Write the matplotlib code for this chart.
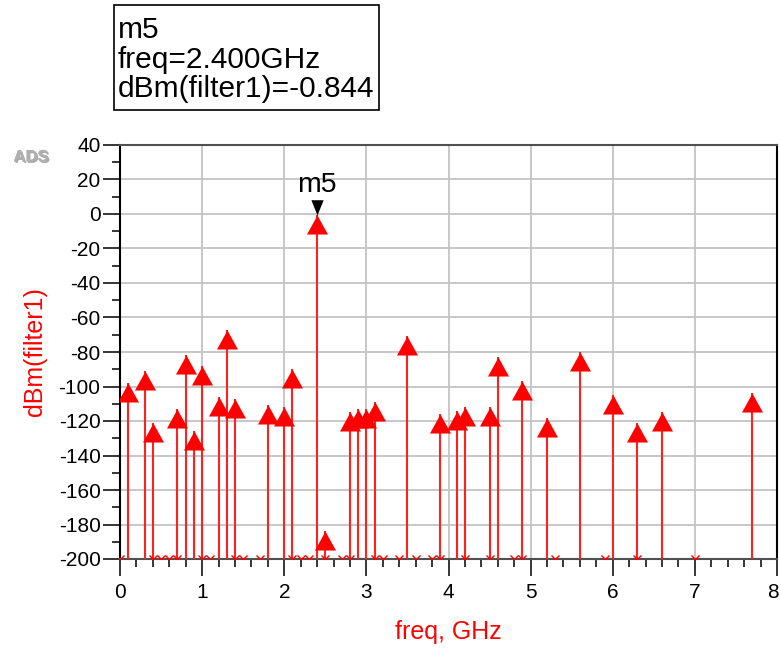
import matplotlib
matplotlib.use("Agg")
import matplotlib.pyplot as plt
from matplotlib.path import Path
from matplotlib.patches import Rectangle
import matplotlib.patheffects as pe
from matplotlib.ticker import MultipleLocator
from matplotlib.transforms import ScaledTranslation

plt.rcParams['font.family'] = ['Liberation Sans', 'DejaVu Sans']
plt.rcParams['axes.unicode_minus'] = False

# Spectrum lines (GHz, dBm)
freqs = [0.1, 0.3, 0.4, 0.7, 0.8, 0.9, 1.0, 1.2, 1.3, 1.4, 1.8, 2.0, 2.1,
         2.4, 2.5, 2.8, 2.9, 3.0, 3.1, 3.5, 3.9, 4.1, 4.2, 4.5, 4.6, 4.9,
         5.2, 5.6, 6.0, 6.3, 6.6, 7.7]
dbm = [-98, -91, -121, -113, -82, -126, -88, -106, -67, -107, -111, -112, -90,
       -0.844, -184, -115, -113, -113, -109, -71, -116, -114, -112, -112, -83, -97,
       -118, -80, -105, -121, -115, -104]

# Points at the floor of the plot (-200 dBm)
floor_freqs = [0.0, 0.4, 0.5, 0.6, 0.7, 1.0, 1.1, 1.4, 1.5, 1.7, 2.1, 2.2, 2.3,
               2.5, 2.7, 2.8, 3.1, 3.2, 3.4, 3.6, 3.8, 3.9, 4.2, 4.5, 4.8, 4.9,
               5.3, 5.9, 6.3, 7.0]
floor_dbm = [-200] * len(floor_freqs)

marker_freq = 2.4
marker_val = -0.844
marker_name = "m5"

x_ticks = [0, 1, 2, 3, 4, 5, 6, 7, 8]
y_ticks = list(range(-200, 41, 20))

W, H = 781, 652
fig = plt.figure(figsize=(W / 100, H / 100), dpi=100)
ax = fig.add_axes([120 / W, (H - 559) / H, 657 / W, 414 / H])

ax.set_xlim(0, 8)
ax.set_ylim(-200, 40)
ax.set_xticks(x_ticks)
ax.set_yticks(y_ticks)
ax.xaxis.set_minor_locator(MultipleLocator(0.2))
ax.yaxis.set_minor_locator(MultipleLocator(10))
ax.grid(True, which='major', color='#c4c4c4', linewidth=1.3, zorder=0)
ax.set_axisbelow(True)

ax.tick_params(axis='both', which='major', direction='out', length=12.5, width=1.1,
               labelsize=15, color='black')
ax.tick_params(axis='x', which='major', pad=5)
ax.tick_params(axis='y', which='major', pad=1.5)
ax.tick_params(axis='both', which='minor', direction='out', length=6, width=1.1,
               color='black')

for side, col in [('left', 'black'), ('right', 'black'), ('top', '#505050'), ('bottom', '#505050')]:
    ax.spines[side].set_color(col)
    ax.spines[side].set_linewidth(1.5)

# keep the last x tick label inside the figure
fig.canvas.draw()
last_lbl = ax.get_xticklabels()[-1]
last_lbl.set_transform(last_lbl.get_transform() + ScaledTranslation(-4 / 100, 0, fig.dpi_scale_trans))

# stems
ax.vlines(freqs, -200, dbm, color='#ff2020', linewidth=1.5, zorder=3)

# triangle markers with apex at the data value
tri = Path([(0, 0), (-10.5, -19), (10.5, -19), (0, 0)],
           [Path.MOVETO, Path.LINETO, Path.LINETO, Path.CLOSEPOLY])
ax.plot(freqs, dbm, linestyle='none', marker=tri, markersize=27.4,
        markerfacecolor='red', markeredgewidth=0, zorder=4)

# floor points drawn as x, clipped at bottom
ax.plot(floor_freqs, floor_dbm, linestyle='none', marker='x', markersize=5.5,
        markeredgecolor='red', markeredgewidth=1.0, zorder=4)

# marker m5 (black inverted triangle above the point)
inv = Path([(0, 0), (-6, 15), (6, 15), (0, 0)],
           [Path.MOVETO, Path.LINETO, Path.LINETO, Path.CLOSEPOLY])
ax.plot([marker_freq], [marker_val], linestyle='none', marker=inv, markersize=22,
        markerfacecolor='black', markeredgewidth=0, zorder=5, clip_on=False)
ax.annotate(marker_name, (marker_freq, marker_val), xytext=(0, 17), textcoords='offset points',
            ha='center', va='baseline', fontsize=20.5, color='black', zorder=6)

ax.set_xlabel("freq, GHz", fontsize=18, color='red', labelpad=13)
ax.set_ylabel("dBm(filter1)", fontsize=18, color='red', labelpad=8)

# marker readout box
fig.add_artist(Rectangle((114 / W, 1 - 110 / H), (379 - 114) / W, (110 - 5) / H,
                         transform=fig.transFigure, fill=False, edgecolor='black',
                         linewidth=1.2))
lines = ["m5", "freq=2.400GHz", "dBm(filter1)=-0.844"]
baselines = [38, 68, 97]
for txt, yb in zip(lines, baselines):
    fig.text(118 / W, 1 - yb / H, txt, fontsize=21.5, color='black', va='baseline', ha='left')

# ADS logo
fig.text(31 / W, 1 - 157 / H, "ADS", fontsize=12, fontweight='bold', color='#b0b0b0',
         ha='center', va='center',
         path_effects=[pe.withSimplePatchShadow(offset=(1, -1), shadow_rgbFace='#707070', alpha=0.6),
                       pe.Normal()])

fig.savefig("out.png", dpi=100)
